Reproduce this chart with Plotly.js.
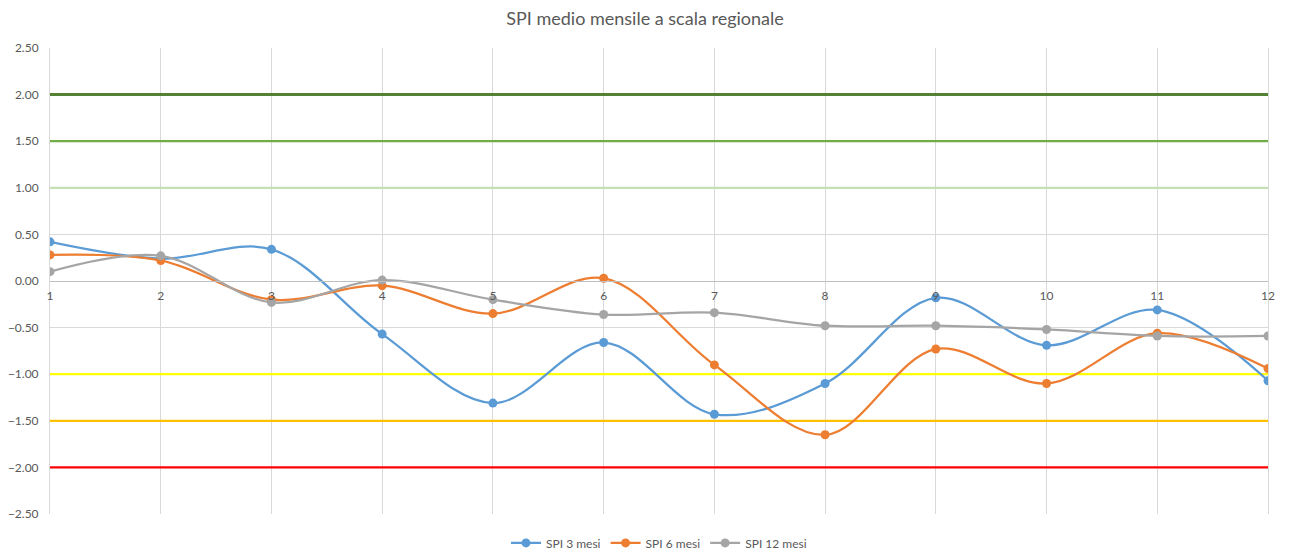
<!DOCTYPE html>
<html>
<head>
<meta charset="utf-8">
<script src="https://cdn.plot.ly/plotly-3.0.1.min.js"></script>
<style>html,body{margin:0;padding:0;background:#fff;}#chart{width:1290px;height:553px;}</style>
</head>
<body>
<div id="chart"></div>
<script>
const months = [1, 2, 3, 4, 5, 6, 7, 8, 9, 10, 11, 12];
const spi3 = [0.42, 0.24, 0.34, -0.57, -1.31, -0.66, -1.43, -1.10, -0.18, -0.69, -0.31, -1.07];
const spi6 = [0.28, 0.22, -0.20, -0.05, -0.35, 0.03, -0.90, -1.65, -0.73, -1.10, -0.56, -0.94];
const spi12 = [0.10, 0.27, -0.23, 0.01, -0.20, -0.36, -0.34, -0.48, -0.48, -0.52, -0.59, -0.59];
const seriesNames = ['SPI 3 mesi', 'SPI 6 mesi', 'SPI 12 mesi'];
const thresholds = [2.0, 1.5, 1.0, -1.0, -1.5, -2.0];
const thresholdColors = ['#548235', '#70AD47', '#C5E0B4', '#FFFF00', '#FFC000', '#FF0000'];
const seriesColors = ['#5B9BD5', '#ED7D31', '#A5A5A5'];

const traces = [];
thresholds.forEach((t, i) => {
  traces.push({
    x: [months[0], months[months.length - 1]],
    y: [t, t],
    mode: 'lines',
    line: {color: thresholdColors[i], width: i === 0 ? 3 : 2.25},
    showlegend: false,
    hoverinfo: 'skip'
  });
});
[spi3, spi6, spi12].forEach((s, i) => {
  traces.push({
    x: months,
    y: s,
    name: seriesNames[i],
    mode: 'lines+markers',
    line: {color: seriesColors[i], width: 2.25, shape: 'spline', smoothing: 1},
    marker: {color: seriesColors[i], size: 9}
  });
});

const font = "Lato, 'Liberation Sans', sans-serif";
const layout = {
  width: 1290, height: 553,
  margin: {l: 49.5, r: 21.5, t: 48, b: 39, autoexpand: false},
  paper_bgcolor: '#ffffff', plot_bgcolor: '#ffffff',
  font: {family: font, color: '#595959', size: 12},
  title: {text: 'SPI medio mensile a scala regionale', x: 0.5, xanchor: 'center', y: 0.967, yanchor: 'middle',
          font: {family: font, size: 18, color: '#595959'}},
  xaxis: {
    range: [1, 12], tickvals: months, ticktext: months.map(String),
    showgrid: true, gridcolor: '#D9D9D9', gridwidth: 1,
    zeroline: false, showline: true, linecolor: '#BFBFBF', linewidth: 1,
    anchor: 'free', position: 0.5, ticks: '', ticklabelstandoff: 4,
    tickfont: {size: 12, color: '#595959'}, fixedrange: true
  },
  yaxis: {
    range: [-2.5, 2.5], dtick: 0.5, tick0: -2.5, tickformat: '.2f',
    showgrid: true, gridcolor: '#D9D9D9', gridwidth: 1,
    zeroline: false, showline: true, linecolor: '#D9D9D9', linewidth: 1, mirror: true,
    ticks: '', ticklabelstandoff: 8,
    tickfont: {size: 12, color: '#595959'}, fixedrange: true
  },
  legend: {orientation: 'h', x: 0.5, xanchor: 'center', y: -0.062, yanchor: 'middle',
           font: {size: 12, color: '#595959'}, bgcolor: 'rgba(0,0,0,0)', itemwidth: 30},
  showlegend: true
};
Plotly.newPlot('chart', traces, layout, {displayModeBar: false, staticPlot: true});
</script>
</body>
</html>
